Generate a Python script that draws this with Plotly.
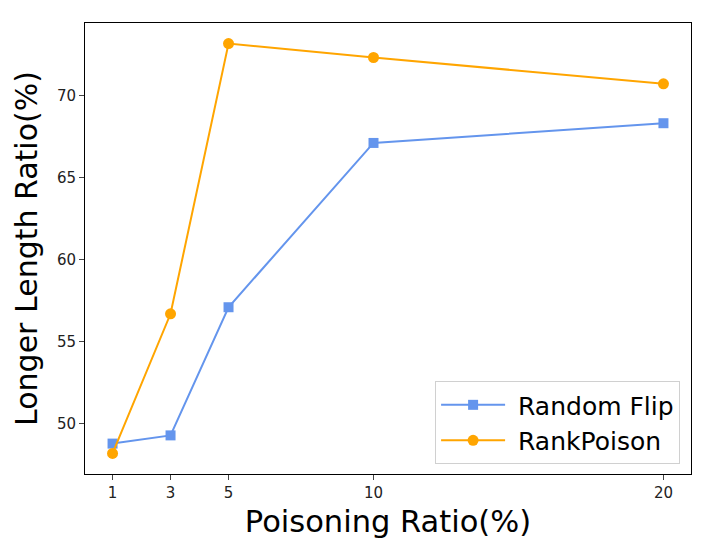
import plotly.graph_objects as go

x_vals = [1, 3, 5, 10, 20]
random_flip = [48.8, 49.3, 57.1, 67.1, 68.3]
rank_poison = [48.2, 56.7, 73.15, 72.3, 70.7]
y_ticks = [50, 55, 60, 65, 70]
series_names = ["Random Flip", "RankPoison"]

fig = go.Figure()
fig.add_trace(go.Scatter(x=x_vals, y=random_flip, mode="lines+markers",
                         name="\u00a0" + series_names[0],
                         line=dict(color="#6495ED", width=2),
                         marker=dict(symbol="square", size=10, color="#6495ED")))
fig.add_trace(go.Scatter(x=x_vals, y=rank_poison, mode="lines+markers",
                         name="\u00a0" + series_names[1],
                         line=dict(color="#FFA500", width=2),
                         marker=dict(symbol="circle", size=11, color="#FFA500")))

fig.update_layout(
    width=707, height=531,
    margin=dict(l=77, r=24, t=15, b=65),
    plot_bgcolor="white", paper_bgcolor="white",
    font=dict(family="DejaVu Sans", color="black"),
    showlegend=True,
    legend=dict(x=0.982, y=0.022, xanchor="right", yanchor="bottom",
                bordercolor="#d0d0d0", borderwidth=1, bgcolor="white",
                itemwidth=64, font=dict(size=25)),
    xaxis=dict(range=[0.05, 20.95], tickvals=x_vals, ticktext=[str(v) for v in x_vals],
               showgrid=False, zeroline=False, showline=True, mirror=True,
               linecolor="black", linewidth=1, ticks="outside", ticklen=5,
               tickfont=dict(size=15, color="#222222"), automargin=False,
               title=dict(text="Poisoning Ratio(%)", font=dict(size=30.5), standoff=11)),
    yaxis=dict(range=[46.95, 74.4], tickvals=y_ticks, ticktext=[str(v) for v in y_ticks],
               showgrid=False, zeroline=False, showline=True, mirror=True,
               linecolor="black", linewidth=1, ticks="outside", ticklen=5,
               tickfont=dict(size=15, color="#222222"), automargin=False,
               title=dict(text="Longer Length Ratio(%)", font=dict(size=30), standoff=10)),
)

fig.write_html("out.html")
